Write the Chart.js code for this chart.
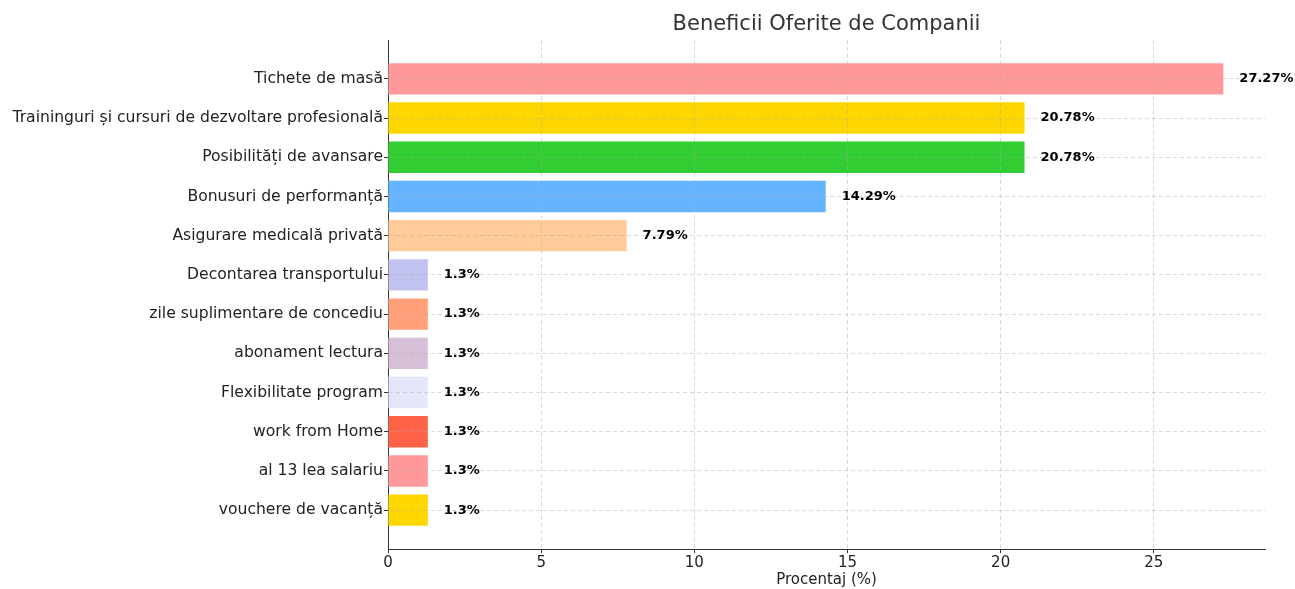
<!DOCTYPE html>
<html>
<head>
<meta charset="utf-8">
<script src="https://cdn.jsdelivr.net/npm/chart.js@4/dist/chart.umd.min.js"></script>
<style>
  html, body { margin: 0; padding: 0; background: #fff; }
  #wrap { width: 1295px; height: 589px; }
</style>
</head>
<body>
<div id="wrap"><canvas id="myChart" width="1295" height="589"></canvas></div>
<script>
// categories, top to bottom
const categories = [
    'Tichete de masă',
    'Traininguri și cursuri de dezvoltare profesională',
    'Posibilități de avansare',
    'Bonusuri de performanță',
    'Asigurare medicală privată',
    'Decontarea transportului',
    'zile suplimentare de concediu',
    'abonament lectura',
    'Flexibilitate program',
    'work from Home',
    'al 13 lea salariu',
    'vouchere de vacanță'
];
const percentages = [27.27, 20.78, 20.78, 14.29, 7.79, 1.3, 1.3, 1.3, 1.3, 1.3, 1.3, 1.3];
const barColors = [
    '#ff9999', '#ffd700', '#32cd32', '#66b3ff', '#ffcc99', '#c2c2f0',
    '#ffa07a', '#d8bfd8', '#e6e6fa', '#ff6347', '#ff9999', '#ffd700'
];
const xTicks = [0, 5, 10, 15, 20, 25];
const chartTitle = 'Beneficii Oferite de Companii';

const FONT = "'DejaVu Sans', sans-serif";
const GRID = 'rgba(170,170,170,0.55)';

// grid over the bars, value labels, title centred over the plot area
const extras = {
    id: 'extras',
    afterDatasetsDraw(chart) {
        const ctx = chart.ctx;
        const meta = chart.getDatasetMeta(0);
        const area = chart.chartArea;

        // redraw the grid only inside the bars so it shows on top of them
        ctx.save();
        ctx.beginPath();
        meta.data.forEach(function(bar) {
            ctx.rect(bar.base, bar.y - bar.height / 2, bar.x - bar.base, bar.height);
        });
        ctx.clip();
        chart.scales.x.drawGrid(area);
        chart.scales.y.drawGrid(area);
        ctx.restore();

        ctx.save();
        ctx.font = 'bold 13px ' + FONT;
        ctx.fillStyle = '#000';
        ctx.textBaseline = 'middle';
        ctx.textAlign = 'left';
        meta.data.forEach(function(bar, i) {
            ctx.fillText(percentages[i] + '%', bar.x + 16, bar.y);
        });
        ctx.restore();
    },
    afterDraw(chart) {
        const ctx = chart.ctx;
        const area = chart.chartArea;
        ctx.save();
        ctx.font = '21px ' + FONT;
        ctx.fillStyle = '#333';
        ctx.textAlign = 'center';
        ctx.textBaseline = 'middle';
        ctx.fillText(chartTitle, (area.left + area.right) / 2, 25);
        ctx.restore();
    }
};

const ctx = document.getElementById('myChart').getContext('2d');
const myChart = new Chart(ctx, {
    type: 'bar',
    data: {
        datasets: [{
            data: percentages.map((v, i) => ({ x: v, y: i })),
            backgroundColor: barColors,
            borderWidth: 0,
            barPercentage: 0.8,
            categoryPercentage: 1.0
        }]
    },
    options: {
        indexAxis: 'y',
        responsive: false,
        animation: false,
        layout: { padding: { left: 0, right: 30, top: 40, bottom: 0 } },
        plugins: {
            legend: { display: false },
            tooltip: { enabled: false },
            title: { display: false }
        },
        scales: {
            x: {
                type: 'linear',
                position: 'bottom',
                min: 0,
                max: 28.63,
                offset: false,
                afterBuildTicks: (axis) => { axis.ticks = xTicks.map(v => ({ value: v })); },
                afterFit: (axis) => { axis.height = 40; },
                grid: {
                    offset: false,
                    color: GRID,
                    lineWidth: 0.8,
                    tickColor: '#333',
                    tickLength: 4,
                    tickBorderDash: [],
                    tickWidth: 1
                },
                border: { display: true, color: '#333', width: 1, dash: [4, 3] },
                ticks: {
                    color: '#222',
                    font: { family: FONT, size: 15 },
                    padding: 1,
                    maxRotation: 0
                },
                title: {
                    display: true,
                    text: 'Procentaj (%)',
                    color: '#222',
                    font: { family: FONT, size: 15 },
                    padding: { top: 0, bottom: 0 }
                }
            },
            y: {
                type: 'linear',
                position: 'left',
                min: -0.99,
                max: 11.99,
                reverse: true,
                offset: false,
                afterBuildTicks: (axis) => { axis.ticks = categories.map((_, i) => ({ value: i })); },
                afterFit: (axis) => { axis.width = 388; },
                grid: {
                    offset: false,
                    color: GRID,
                    lineWidth: 0.8,
                    tickColor: '#333',
                    tickLength: 4,
                    tickBorderDash: [],
                    tickWidth: 1
                },
                border: { display: true, color: '#333', width: 1, dash: [4, 3] },
                ticks: {
                    color: '#222',
                    font: { family: FONT, size: 15.6 },
                    padding: 1,
                    callback: (v) => categories[v]
                }
            }
        }
    },
    plugins: [extras]
});
</script>
</body>
</html>
